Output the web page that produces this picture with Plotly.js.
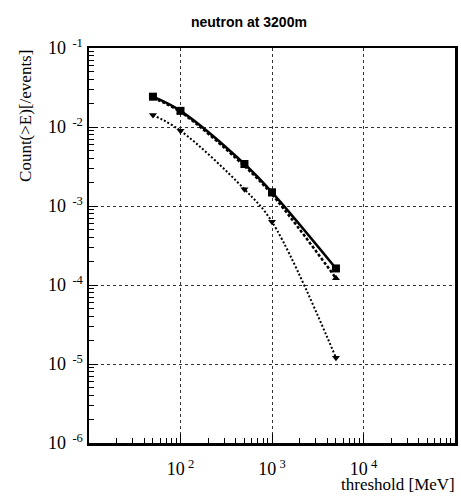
<!DOCTYPE html>
<html>
<head>
<meta charset="utf-8">
<script src="https://cdn.plot.ly/plotly-3.0.1.min.js"></script>
<style>html,body{margin:0;padding:0;background:#fff;}#chart{width:461px;height:496px;}</style>
</head>
<body>
<div id="chart"></div>
<script>
// Threshold energies [MeV]
const thresholds = [50, 100, 500, 1000, 5000];
// Series values: Count(>E) [/events]
const seriesSolid  = [0.0242, 0.0160, 0.0034, 0.00149, 1.62e-4];
const seriesDashed = [0.0235, 0.0155, 0.0032, 0.00140, 1.22e-4];
const seriesDotted = [0.0142, 0.00898, 0.00163, 6.3e-4, 1.20e-5];
// Tick labels
const xTickVals = [100, 1000, 10000];
const xTickText = ['10<sup> 2</sup>', '10<sup> 3</sup>', '10<sup> 4</sup>'];
const yTickVals = [1e-1, 1e-2, 1e-3, 1e-4, 1e-5, 1e-6];
const yTickText = ['10<sup>  -1</sup>', '10<sup>  -2</sup>', '10<sup>  -3</sup>', '10<sup>  -4</sup>', '10<sup>  -5</sup>', '10<sup>  -6</sup>'];

function minorVals(lo, hi) {
  const out = [];
  for (let e = lo; e < hi; e++) for (let k = 2; k <= 9; k++) out.push(k * Math.pow(10, e));
  return out;
}

const traces = [
  {x: thresholds, y: seriesSolid, mode: 'lines+markers', line: {color: '#000', width: 2.5, shape: 'spline'},
   marker: {symbol: 'square', size: 8, color: '#000'}},
  {x: thresholds, y: seriesDashed, mode: 'lines+markers', line: {color: '#000', width: 2.5, shape: 'spline', dash: '3px,2px'},
   marker: {symbol: 'triangle-up', size: 7, color: '#000'}},
  {x: thresholds, y: seriesDotted, mode: 'lines+markers', line: {color: '#000', width: 2, shape: 'spline', dash: '2px,2px'},
   marker: {symbol: 'triangle-down', size: 7, color: '#000'}}
];

const serif = 'Liberation Serif, Times New Roman, serif';
const layout = {
  width: 461, height: 496,
  margin: {l: 89, r: 6, t: 48, b: 53},
  paper_bgcolor: '#fff', plot_bgcolor: '#fff',
  showlegend: false,
  title: {text: '<b>neutron at 3200m</b>', x: 0.54, xanchor: 'center', y: 0.955, yanchor: 'middle',
          font: {family: 'Liberation Sans, Arial, sans-serif', size: 14, color: '#000'}},
  xaxis: {
    type: 'log', range: [1, 5],
    tickmode: 'array', tickvals: xTickVals, ticktext: xTickText,
    ticks: 'inside', ticklen: 9, tickwidth: 1, tickcolor: '#000',
    ticklabelstandoff: 8,
    minor: {tickmode: 'array', tickvals: minorVals(1, 5), ticks: 'inside', ticklen: 5, tickcolor: '#000', showgrid: false},
    showgrid: true, gridcolor: '#333', griddash: 'dot', gridwidth: 1,
    showline: true, linecolor: '#000', linewidth: 2.5, mirror: true,
    zeroline: false,
    tickfont: {family: serif, size: 18, color: '#000'},
    title: {text: ''}
  },
  yaxis: {
    type: 'log', range: [-6, -1],
    tickmode: 'array', tickvals: yTickVals, ticktext: yTickText,
    ticks: 'inside', ticklen: 9, tickwidth: 1, tickcolor: '#000',
    minor: {tickmode: 'array', tickvals: minorVals(-6, -1), ticks: 'inside', ticklen: 5, tickcolor: '#000', showgrid: false},
    showgrid: true, gridcolor: '#333', griddash: 'dot', gridwidth: 1,
    showline: true, linecolor: '#000', linewidth: 2.5, mirror: true,
    zeroline: false,
    tickfont: {family: serif, size: 18, color: '#000'},
    title: {text: ''}
  },
  annotations: [
    {text: 'Count(>E)[/events]', xref: 'paper', yref: 'paper', x: -0.175, y: 1.0, xanchor: 'center', yanchor: 'top',
     textangle: -90, showarrow: false, font: {family: serif, size: 17, color: '#000'}},
    {text: 'threshold [MeV]', xref: 'paper', yref: 'paper', x: 1.005, y: -0.104, xanchor: 'right', yanchor: 'middle',
     showarrow: false, font: {family: serif, size: 17, color: '#000'}}
  ]
};

Plotly.newPlot('chart', traces, layout, {displayModeBar: false, staticPlot: true});
</script>
</body>
</html>
